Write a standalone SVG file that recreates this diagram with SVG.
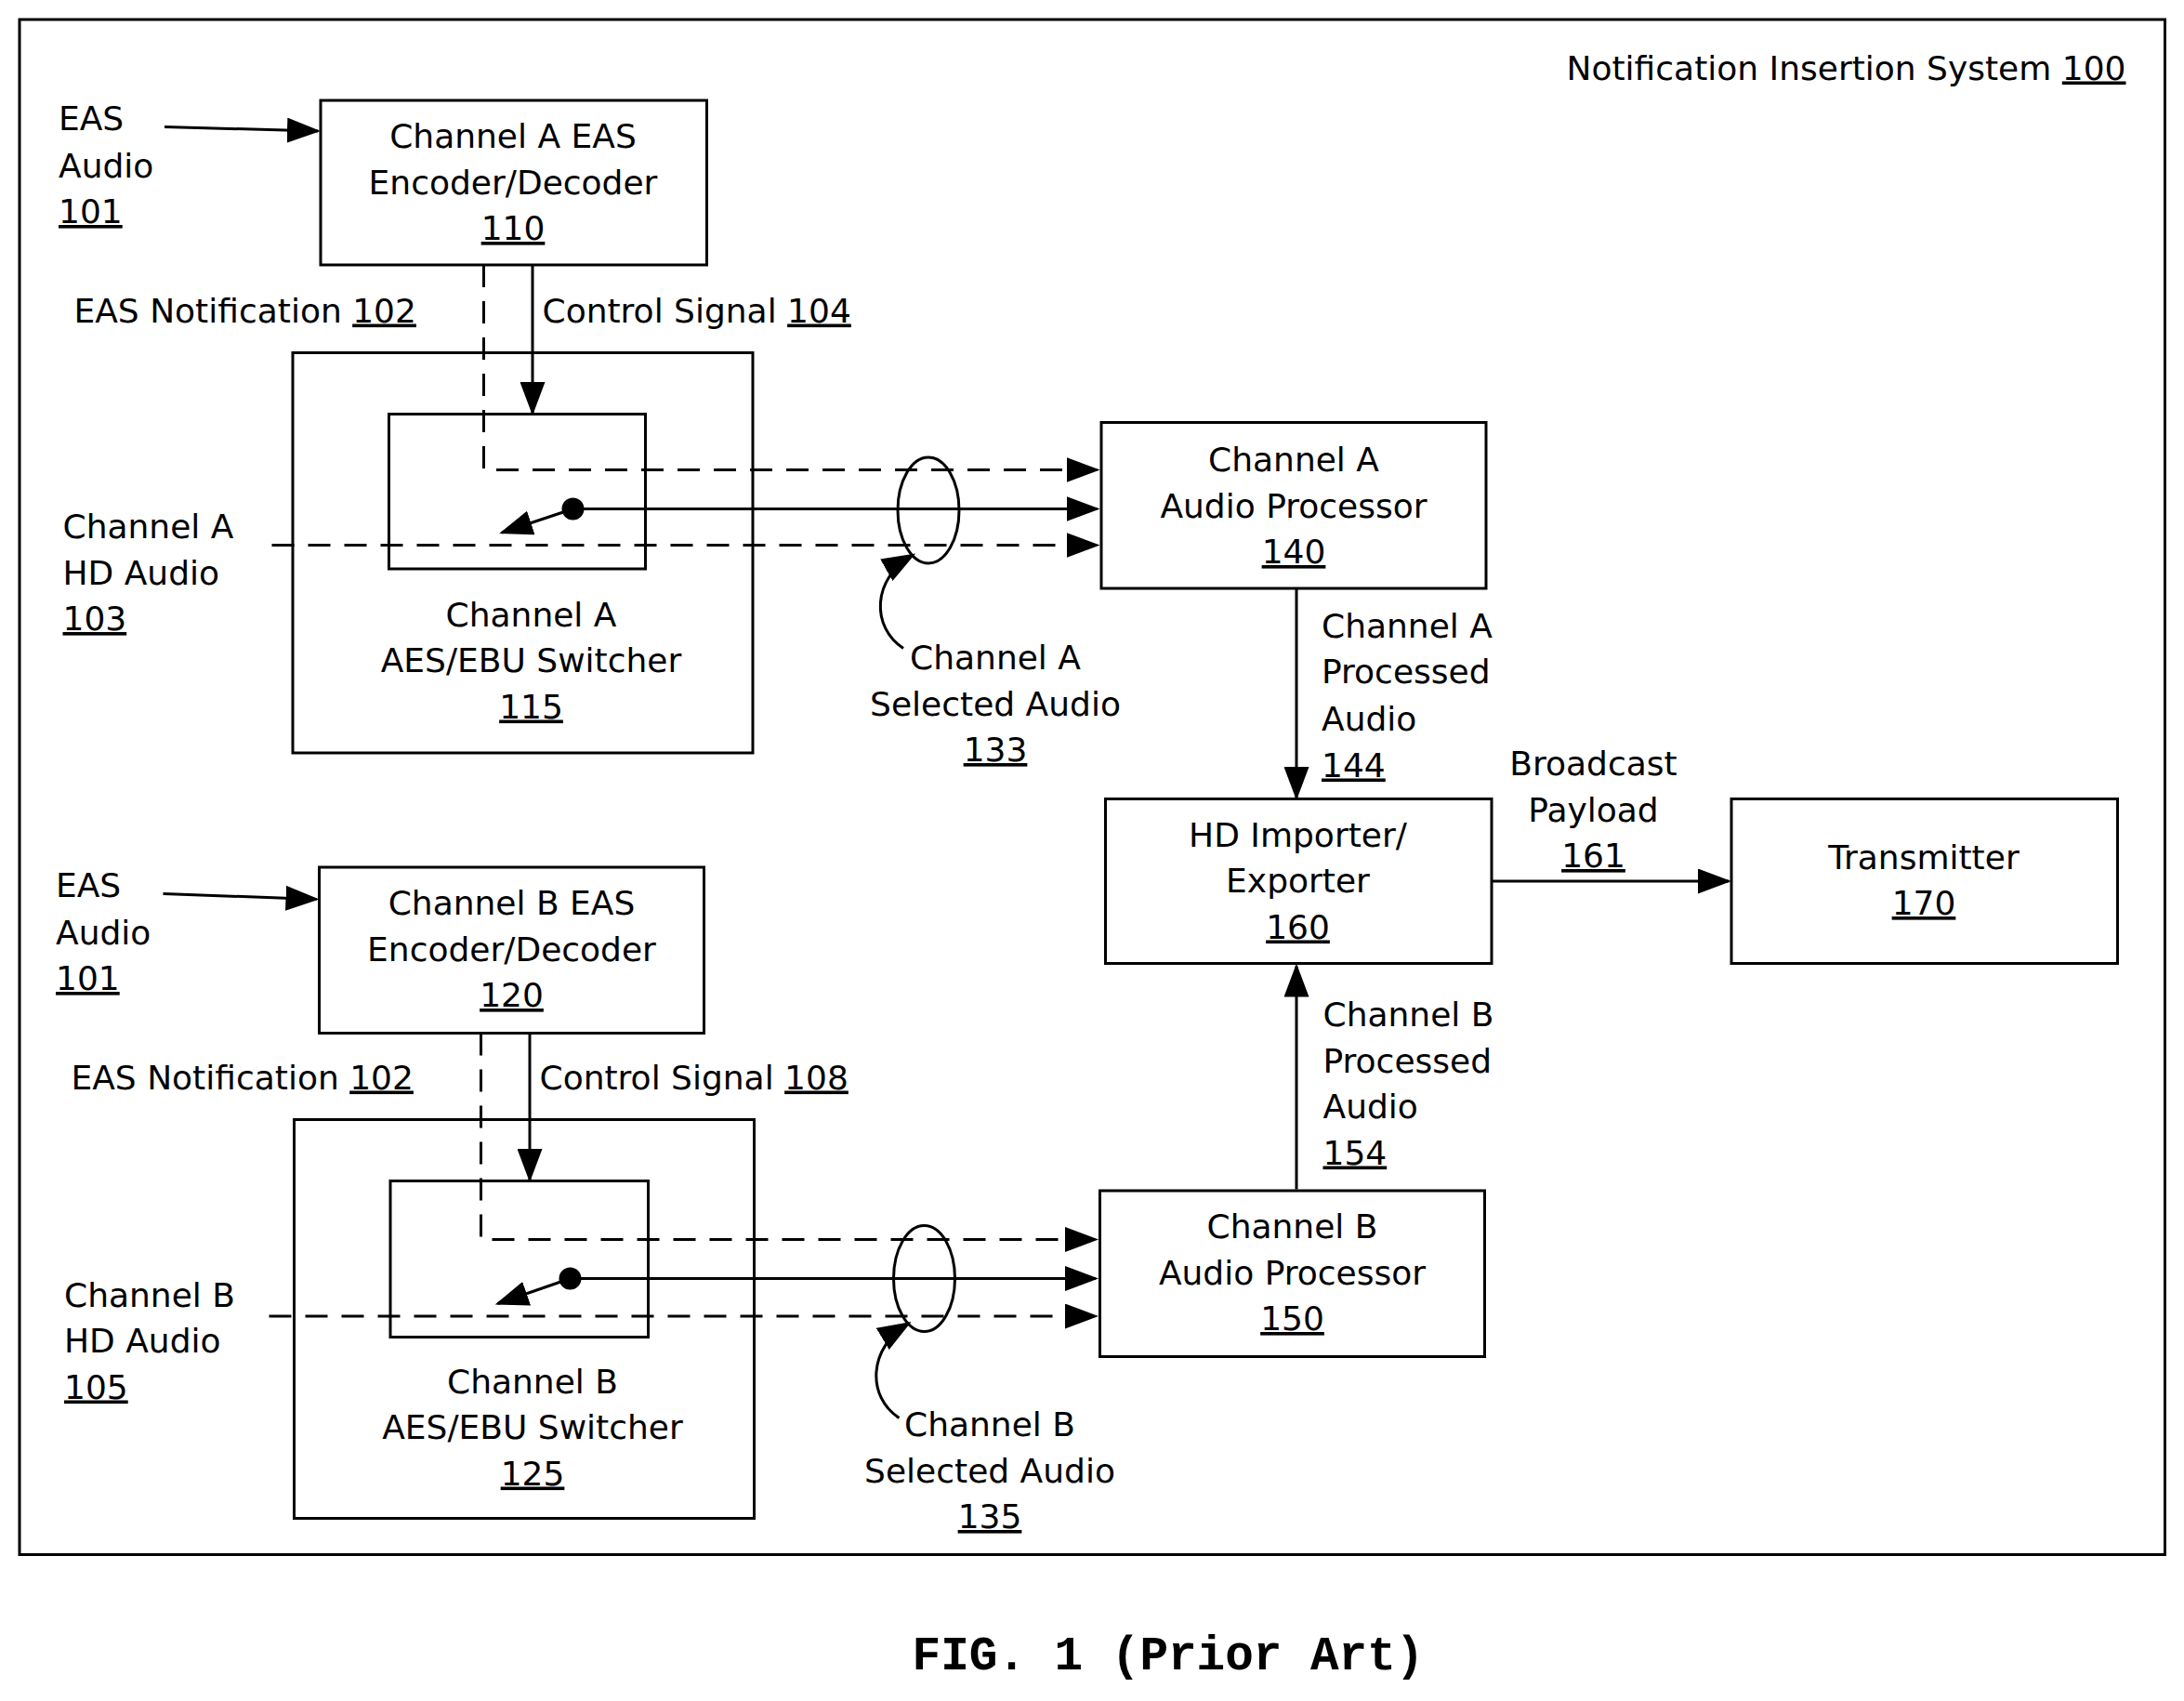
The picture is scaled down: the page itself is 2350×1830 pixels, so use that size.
<svg xmlns="http://www.w3.org/2000/svg" width="2350" height="1830" viewBox="0 0 2350 1830">
<style>
text{font-family:"DejaVu Sans","Liberation Sans",sans-serif;font-size:24px;fill:#000}
.c{text-anchor:middle}
.u{text-decoration:underline}
.b{fill:none;stroke:#000;stroke-width:2}
.l{fill:none;stroke:#000;stroke-width:2}
.d{fill:none;stroke:#000;stroke-width:2;stroke-dasharray:16,10}
</style>
<defs><marker id="s" markerWidth="24" markerHeight="18" refX="22" refY="9" orient="auto" markerUnits="userSpaceOnUse"><path d="M0,0L24,9L0,18z"/></marker></defs>
<rect width="2350" height="1830" fill="#fff"/>
<g transform="scale(1.5)">
<rect x="14" y="14" width="1539" height="1101" class="b"/>
<text x="1525" y="57" text-anchor="end">Notification Insertion System  <tspan class="u">100</tspan></text>
<g id="connectors">
<path d="M118,91L228,94" class="l" marker-end="url(#s)"/>
<path d="M347,190V337H787" class="d" marker-end="url(#s)"/>
<path d="M382,190V296" class="l" marker-end="url(#s)"/>
<path d="M411,365H787" class="l" marker-end="url(#s)"/>
<path d="M411,365L360,382" class="l" marker-end="url(#s)"/>
<circle cx="411" cy="365" r="8"/>
<path d="M195,391H787" class="d" marker-end="url(#s)"/>
<ellipse cx="666" cy="366" rx="22" ry="38" class="l"/>
<path d="M648,465C625,450 625,415 655,398" class="l" marker-end="url(#s)"/>
<path d="M930,422V572" class="l" marker-end="url(#s)"/>
<path d="M1070,632H1240" class="l" marker-end="url(#s)"/>
<path d="M930,853V693" class="l" marker-end="url(#s)"/>
<path d="M117,641L227,645" class="l" marker-end="url(#s)"/>
<path d="M345,741V889H786" class="d" marker-end="url(#s)"/>
<path d="M380,741V846" class="l" marker-end="url(#s)"/>
<path d="M409,917H786" class="l" marker-end="url(#s)"/>
<path d="M409,917L357,935" class="l" marker-end="url(#s)"/>
<circle cx="409" cy="917" r="8"/>
<path d="M193,944H786" class="d" marker-end="url(#s)"/>
<ellipse cx="663" cy="917" rx="22" ry="38" class="l"/>
<path d="M645,1017C622,1002 622,967 652,949" class="l" marker-end="url(#s)"/>
</g>
<g id="n101a"><text x="42" y="93">EAS</text><text x="42" y="127">Audio</text><text x="42" y="160" class="u">101</text></g>
<g id="n110"><rect x="230" y="72" width="277" height="118" class="b" fill="#fff"/><text x="368" y="106" class="c">Channel A EAS</text><text x="368" y="139" class="c">Encoder/Decoder</text><text x="368" y="172" class="c u">110</text></g>
<g id="l102a"><text x="53" y="231">EAS Notification <tspan class="u">102</tspan></text></g>
<g id="l104"><text x="389" y="231">Control Signal <tspan class="u">104</tspan></text></g>
<g id="n115"><rect x="210" y="253" width="330" height="287" class="b"/><rect x="279" y="297" width="184" height="111" class="b"/><text x="381" y="449" class="c">Channel A</text><text x="381" y="482" class="c">AES/EBU Switcher</text><text x="381" y="515" class="c u">115</text></g>
<g id="n103"><text x="45" y="386">Channel A</text><text x="45" y="419">HD Audio</text><text x="45" y="452" class="u">103</text></g>
<g id="l133"><text x="714" y="480" class="c">Channel A</text><text x="714" y="513" class="c">Selected Audio</text><text x="714" y="546" class="c u">133</text></g>
<g id="n140"><rect x="790" y="303" width="276" height="119" class="b"/><text x="928" y="338" class="c">Channel A</text><text x="928" y="371" class="c">Audio Processor</text><text x="928" y="404" class="c u">140</text></g>
<g id="l144"><text x="948" y="457">Channel A</text><text x="948" y="490">Processed</text><text x="948" y="524">Audio</text><text x="948" y="557" class="u">144</text></g>
<g id="n160"><rect x="793" y="573" width="277" height="118" class="b"/><text x="931" y="607" class="c">HD Importer/</text><text x="931" y="640" class="c">Exporter</text><text x="931" y="673" class="c u">160</text></g>
<g id="l161"><text x="1143" y="556" class="c">Broadcast</text><text x="1143" y="589" class="c">Payload</text><text x="1143" y="622" class="c u">161</text></g>
<g id="n170"><rect x="1242" y="573" width="277" height="118" class="b"/><text x="1380" y="623" class="c">Transmitter</text><text x="1380" y="656" class="c u">170</text></g>
<g id="n101b"><text x="40" y="643">EAS</text><text x="40" y="677">Audio</text><text x="40" y="710" class="u">101</text></g>
<g id="n120"><rect x="229" y="622" width="276" height="119" class="b"/><text x="367" y="656" class="c">Channel B EAS</text><text x="367" y="689" class="c">Encoder/Decoder</text><text x="367" y="722" class="c u">120</text></g>
<g id="l102b"><text x="51" y="781">EAS Notification <tspan class="u">102</tspan></text></g>
<g id="l108"><text x="387" y="781">Control Signal <tspan class="u">108</tspan></text></g>
<g id="n125"><rect x="211" y="803" width="330" height="286" class="b"/><rect x="280" y="847" width="185" height="112" class="b"/><text x="382" y="999" class="c">Channel B</text><text x="382" y="1032" class="c">AES/EBU Switcher</text><text x="382" y="1065" class="c u">125</text></g>
<g id="n105"><text x="46" y="937">Channel B</text><text x="46" y="970">HD Audio</text><text x="46" y="1003" class="u">105</text></g>
<g id="l135"><text x="710" y="1030" class="c">Channel B</text><text x="710" y="1063" class="c">Selected Audio</text><text x="710" y="1096" class="c u">135</text></g>
<g id="n150"><rect x="789" y="854" width="276" height="119" class="b"/><text x="927" y="888" class="c">Channel B</text><text x="927" y="921" class="c">Audio Processor</text><text x="927" y="954" class="c u">150</text></g>
<g id="l154"><text x="949" y="736">Channel B</text><text x="949" y="769">Processed</text><text x="949" y="802">Audio</text><text x="949" y="835" class="u">154</text></g>
<text x="838" y="1197" class="c" style="font-family:'Liberation Mono',monospace;font-weight:bold;font-size:34px">FIG. 1 (Prior Art)</text>
</g>
</svg>
